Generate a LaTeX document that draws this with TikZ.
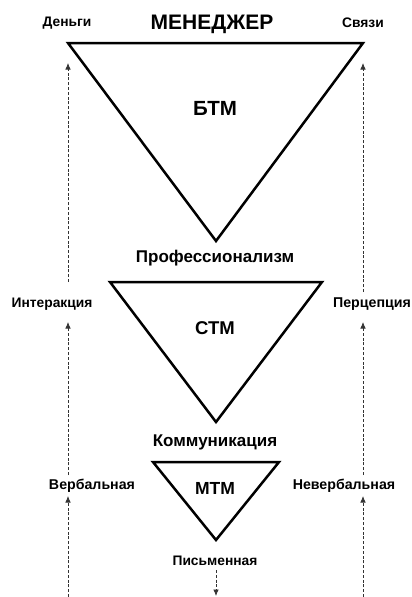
\documentclass[tikz,border=0pt]{standalone}
\usepackage{fontspec}
\setmainfont{Liberation Sans}
\usetikzlibrary{arrows.meta}
\begin{document}
\begin{tikzpicture}[x=1pt,y=-1pt,
  lbl/.style={font=\bfseries\fontsize{#1}{#1}\selectfont, inner sep=0pt, anchor=center},
  tri/.style={draw=black, line width=2.5pt},
  flow/.style={draw=black!80, line width=0.8pt, dash pattern=on 3pt off 1.8pt, -{Latex[length=6.5pt,width=5.5pt]}}]
\useasboundingbox (0,0) rectangle (412,597);
% triangles
\coordinate (b1) at (68,43); \coordinate (b2) at (363,43); \coordinate (b3) at (216,241);
\coordinate (s1) at (110,282); \coordinate (s2) at (322,282); \coordinate (s3) at (216,422);
\coordinate (m1) at (153,462); \coordinate (m2) at (279,462); \coordinate (m3) at (216,540);
\draw[tri] (b1) -- (b2) -- (b3) -- cycle;
\draw[tri] (s1) -- (s2) -- (s3) -- cycle;
\draw[tri] (m1) -- (m2) -- (m3) -- cycle;
% labels
\node[lbl=21] (man) at (212,24) {МЕНЕДЖЕР};
\node[lbl=13.8] (money) at (67,23) {Деньги};
\node[lbl=13.8] (links) at (363,23) {Связи};
\node[lbl=20.5] (btm) at (215,108) {БТМ};
\node[lbl=17] (prof) at (215,258) {Профессионализм};
\node[lbl=13.8] (inter) at (52,304) {Интеракция};
\node[lbl=14.2] (perc) at (372,304) {Перцепция};
\node[lbl=18.5] (stm) at (215,328) {СТМ};
\node[lbl=17] (comm) at (215,442) {Коммуникация};
\node[lbl=14.2] (verb) at (92,486) {Вербальная};
\node[lbl=14.2] (nverb) at (344,486) {Невербальная};
\node[lbl=17.5] (mtm) at (215,488) {МТМ};
\node[lbl=13.8] (writ) at (215,561) {Письменная};
% arrow end points
\coordinate (l1t) at (68,63); \coordinate (l1b) at (68,282);
\coordinate (l2t) at (68,322); \coordinate (l2b) at (68,475);
\coordinate (l3t) at (68,496); \coordinate (l3b) at (68,597);
\coordinate (r1t) at (363,63); \coordinate (r1b) at (363,292);
\coordinate (r2t) at (363,322); \coordinate (r2b) at (363,475);
\coordinate (r3t) at (363,496); \coordinate (r3b) at (363,597);
\coordinate (dt) at (216,570); \coordinate (db) at (216,596);
\draw[flow] (l1b) -- (l1t);
\draw[flow] (l2b) -- (l2t);
\draw[flow] (l3b) -- (l3t);
\draw[flow] (r1b) -- (r1t);
\draw[flow] (r2b) -- (r2t);
\draw[flow] (r3b) -- (r3t);
\draw[flow] (dt) -- (db);
\end{tikzpicture}
\end{document}
